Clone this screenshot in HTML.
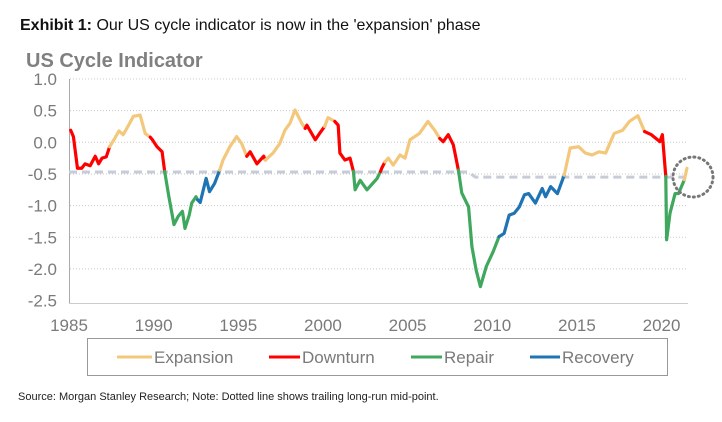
<!DOCTYPE html>
<html><head><meta charset="utf-8"><style>
body{margin:0;background:#fff;width:722px;height:417px;overflow:hidden;font-family:"Liberation Sans",sans-serif}
</style></head><body>
<svg id="chart" width="722" height="417" xmlns="http://www.w3.org/2000/svg" font-family="Liberation Sans, sans-serif">
<text x="20" y="30" font-size="16" fill="#111"><tspan font-weight="bold">Exhibit 1:</tspan>  Our US cycle indicator is now in the 'expansion' phase</text>
<text x="26" y="67" font-size="20" font-weight="bold" fill="#808080">US Cycle Indicator</text>
<g id="grid"></g><g id="axes"></g><g id="mid"></g><g id="series"></g>
<circle cx="693" cy="177" r="20" fill="none" stroke="#777" stroke-width="3" stroke-dasharray="1 4" stroke-linecap="round"/>
<rect x="87.5" y="338.5" width="580" height="37" fill="none" stroke="#999" stroke-width="1"/>
<g><line x1="117" y1="357" x2="152" y2="357" stroke="#f4c87c" stroke-width="3"/><text x="154" y="363" font-size="17" fill="#7a7a7a">Expansion</text></g>
<g><line x1="269" y1="357" x2="300" y2="357" stroke="#ff0000" stroke-width="3"/><text x="302" y="363" font-size="17" fill="#7a7a7a">Downturn</text></g>
<g><line x1="411" y1="357" x2="442" y2="357" stroke="#3fa85e" stroke-width="3"/><text x="444" y="363" font-size="17" fill="#7a7a7a">Repair</text></g>
<g><line x1="530" y1="357" x2="560" y2="357" stroke="#1f74b4" stroke-width="3"/><text x="562" y="363" font-size="17" fill="#7a7a7a">Recovery</text></g>
<text x="18" y="400" font-size="11" fill="#222">Source: Morgan Stanley Research; Note: Dotted line shows trailing long-run mid-point.</text>
</svg>
<script>
const yTicks=[1.0,0.5,0.0,-0.5,-1.0,-1.5,-2.0,-2.5];
const xTicks=[1985,1990,1995,2000,2005,2010,2015,2020];
const phaseNames=['expansion','downturn','repair','recovery'];
const phaseColors={expansion:'#f4c87c',downturn:'#ff0000',repair:'#3fa85e',recovery:'#1f74b4'};
const segPhases=['downturn','expansion','downturn','repair','recovery','expansion','downturn','expansion','downturn','expansion','downturn','repair','downturn','expansion','downturn','repair','recovery','expansion','downturn','repair','expansion'];
const segYears=[
[1985.1,1985.26,1985.5,1985.75,1985.95,1986.25,1986.55,1986.75,1986.95,1987.2,1987.4],
[1987.4,1987.7,1987.95,1988.2,1988.5,1988.8,1989.2,1989.5,1989.8],
[1989.8,1989.9,1990.2,1990.5,1990.65],
[1990.65,1990.9,1991.2,1991.45,1991.7,1991.85,1992.1,1992.25,1992.5,1992.6],
[1992.6,1992.75,1993.1,1993.3,1993.6,1993.9],
[1993.9,1994.1,1994.5,1994.9,1995.2,1995.5],
[1995.5,1995.7,1996.1,1996.5,1996.6],
[1996.6,1997.05,1997.45,1997.75,1998.05,1998.35,1998.75,1998.95],
[1998.95,1999.05,1999.55,1999.8,2000.1],
[2000.1,2000.3,2000.7],
[2000.7,2000.9,2001.0,2001.3,2001.6,2001.8],
[2001.8,2001.9,2002.2,2002.6,2003.2,2003.4],
[2003.4,2003.47,2003.66],
[2003.66,2003.86,2004.15,2004.55,2004.85,2005.14,2005.7,2006.2,2006.6,2006.9],
[2006.9,2007.1,2007.4,2007.7,2008.0],
[2008.0,2008.2,2008.6,2008.8,2009.05,2009.3,2009.65,2010.05,2010.4],
[2010.4,2010.7,2011.0,2011.3,2011.6,2011.9,2012.15,2012.55,2012.95,2013.15,2013.45,2013.85,2014.25],
[2014.25,2014.6,2015.1,2015.5,2015.9,2016.3,2016.7,2017.2,2017.7,2018.1,2018.6,2019.0],
[2019.0,2019.4,2019.9,2020.05,2020.25],
[2020.25,2020.3,2020.5,2020.8,2021.0,2021.35],
[2021.35,2021.5]];
const segValues=[
[0.19,0.09,-0.41,-0.41,-0.34,-0.37,-0.22,-0.34,-0.25,-0.23,-0.07],
[-0.07,0.06,0.18,0.12,0.26,0.41,0.43,0.14,0.08],
[0.08,0.05,-0.07,-0.15,-0.46],
[-0.46,-0.86,-1.3,-1.17,-1.09,-1.36,-1.15,-0.96,-0.86,-0.91],
[-0.91,-0.95,-0.57,-0.78,-0.65,-0.44],
[-0.44,-0.28,-0.07,0.09,-0.02,-0.22],
[-0.22,-0.15,-0.34,-0.22,-0.28],
[-0.28,-0.17,-0.02,0.19,0.30,0.51,0.30,0.22],
[0.22,0.27,0.04,0.14,0.25],
[0.25,0.39,0.33],
[0.33,0.27,-0.17,-0.28,-0.25,-0.46],
[-0.46,-0.75,-0.6,-0.75,-0.57,-0.46],
[-0.46,-0.41,-0.31],
[-0.31,-0.25,-0.36,-0.2,-0.25,0.04,0.14,0.33,0.19,0.06],
[0.06,0.01,0.12,-0.04,-0.44],
[-0.44,-0.8,-1.02,-1.65,-2.02,-2.28,-1.96,-1.73,-1.49],
[-1.49,-1.44,-1.15,-1.12,-1.02,-0.83,-0.81,-0.96,-0.73,-0.86,-0.7,-0.81,-0.52],
[-0.52,-0.09,-0.07,-0.17,-0.2,-0.15,-0.17,0.14,0.19,0.33,0.42,0.17],
[0.17,0.12,0.01,0.12,-0.54],
[-0.54,-1.54,-1.12,-0.81,-0.81,-0.59],
[-0.59,-0.41]];
const midYears=[1985,2008.6,2009.0,2021.5];
const midValues=[-0.47,-0.47,-0.55,-0.55];

const NS='http://www.w3.org/2000/svg';
function xs(yr){return 69+(yr-1985)*16.93;}
function ys(v){return 142.3-v*63.3;}
function mk(tag,attrs,parent){const e=document.createElementNS(NS,tag);for(const k in attrs)e.setAttribute(k,attrs[k]);parent.appendChild(e);return e;}
const grid=document.getElementById('grid'),axes=document.getElementById('axes'),mid=document.getElementById('mid'),series=document.getElementById('series');
yTicks.forEach(t=>{
  if(t>-2.5){const g=mk('line',{x1:70,x2:688,y1:ys(t),y2:ys(t),stroke:'#c8c8c8','stroke-width':1,'stroke-dasharray':'1 2'},grid);
  
  }
  const l=mk('text',{x:57,y:ys(t)+6,'text-anchor':'end','font-size':17,fill:'#7a7a7a'},axes);
  l.textContent=t.toFixed(1);
  
  
});
xTicks.forEach(t=>{
  const l=mk('text',{x:xs(t),y:331,'text-anchor':'middle','font-size':17,fill:'#7a7a7a'},axes);
  l.textContent=t;
  
  
});
const ya=mk('line',{x1:69.5,x2:69.5,y1:79,y2:303,stroke:'#aaa','stroke-width':1},axes);


const xa=mk('line',{x1:69,x2:688,y1:303.5,y2:303.5,stroke:'#ccc','stroke-width':1},axes);


const mp=mk('polyline',{points:midYears.map((y,i)=>xs(y)+','+ys(midValues[i])).join(' '),fill:'none',stroke:'#c6ccd8','stroke-width':3,'stroke-dasharray':'8 5'},mid);


segYears.forEach((yrs,i)=>{
  const ph=segPhases[i];
  const p=mk('polyline',{points:yrs.map((y,j)=>xs(y)+','+ys(segValues[i][j])).join(' '),fill:'none',stroke:phaseColors[ph],'stroke-width':3.2,'stroke-linejoin':'round','stroke-linecap':'round'},series);
  
  
});
</script>
</body></html>
